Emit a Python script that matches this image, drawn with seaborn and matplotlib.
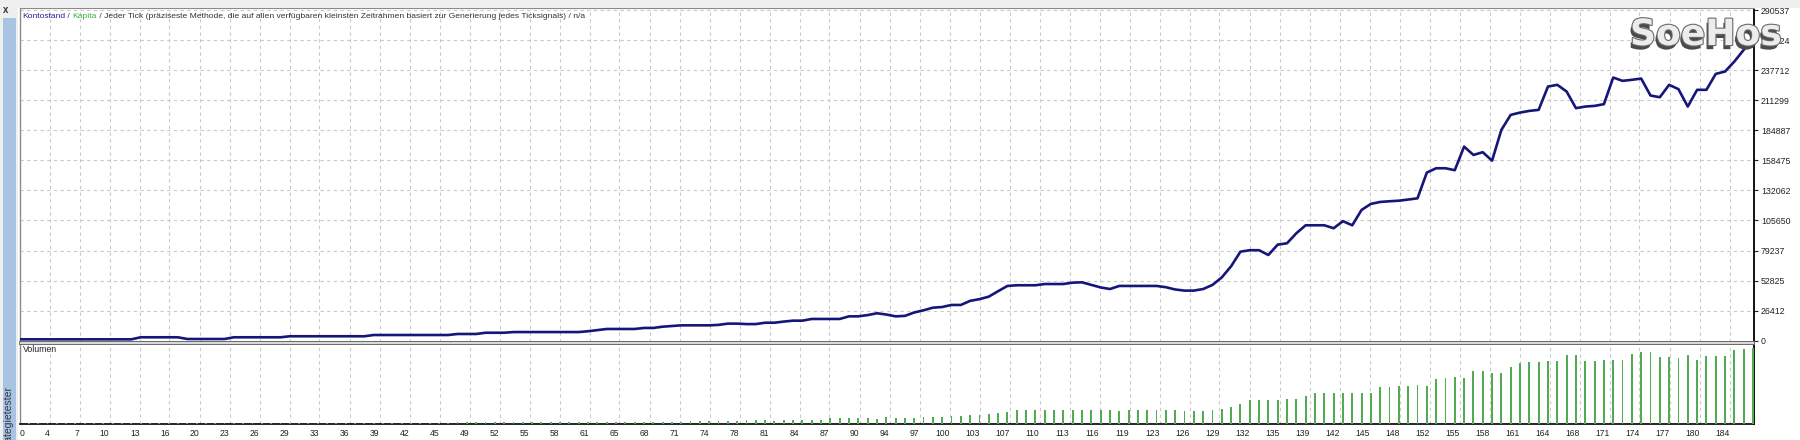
import numpy as np
import pandas as pd
import matplotlib
matplotlib.use("Agg")
import matplotlib.pyplot as plt
import matplotlib.patheffects as pe
from matplotlib.patches import Rectangle
import seaborn as sns

# Kontostand per trade
balance = [
    1200, 1200, 1200, 1200, 1200, 1200, 1200, 1200, 1200, 1200,
    1200, 1200, 1200, 3000, 3000, 3000, 3000, 3000, 1500, 1500,
    1500, 1500, 1500, 3000, 3000, 3000, 3000, 3000, 3000, 3900,
    3900, 3900, 3900, 3900, 3900, 3900, 3900, 3900, 5000, 5000,
    5000, 5000, 5000, 5000, 5000, 5000, 5000, 5900, 5900, 5900,
    7000, 7000, 7000, 7600, 7600, 7600, 7600, 7600, 7600, 7600,
    7600, 8300, 9300, 10300, 10300, 10300, 10300, 11200, 11200, 12300,
    12900, 13500, 13500, 13500, 13500, 13900, 15000, 15000, 14600, 14600,
    15800, 15800, 16800, 17600, 17600, 19100, 19100, 19100, 19100, 21400,
    21400, 22500, 24100, 23000, 21400, 21800, 24800, 26700, 29000, 29600,
    31400, 31400, 35000, 36500, 38700, 43500, 48100, 48700, 48700, 48700,
    49800, 49800, 49800, 51000, 51300, 49000, 46800, 45400, 48100, 48100,
    48100, 48100, 48100, 47000, 45000, 44000, 44000, 45400, 49000, 55600,
    65400, 78200, 79500, 79500, 75300, 84400, 85600, 94400, 101400, 101400,
    101400, 98800, 105000, 101400, 114900, 120200, 121900, 122500, 123000, 124000,
    125100, 147700, 151500, 151500, 149800, 170500, 163200, 165600, 158200, 185200,
    198400, 200400, 201900, 202800, 223300, 224800, 218900, 204300, 205700, 206300,
    207800, 231200, 228300, 229200, 230300, 215400, 213900, 224800, 221000, 205700,
    220400, 220400, 234400, 236500, 245300, 255500, 264900,
]

# Volumen per trade (relative bar height)
volumen = [
    0.3, 0.3, 0.3, 0.3, 0.3, 0.3, 0.3, 0.3, 0.3, 0.3,
    0.3, 0.3, 0.3, 0.5, 0.5, 0.5, 0.5, 0.5, 0.4, 0.4,
    0.4, 0.4, 0.4, 0.5, 0.5, 0.5, 0.5, 0.5, 0.5, 0.7,
    0.7, 0.7, 0.7, 0.7, 0.7, 0.7, 0.7, 0.7, 0.9, 0.9,
    0.9, 0.9, 0.9, 0.9, 0.9, 0.9, 0.9, 1.1, 1.1, 1.1,
    1.1, 1.1, 1.1, 1.3, 1.3, 1.3, 1.3, 1.3, 1.3, 1.3,
    1.3, 1.6, 1.6, 1.6, 1.6, 1.6, 1.6, 1.6, 1.6, 2.0,
    2.0, 2.0, 2.7, 2.7, 2.7, 2.7, 2.7, 2.7, 4.0, 4.0,
    4.0, 2.7, 4.0, 4.0, 4.0, 4.0, 4.0, 5.3, 5.3, 5.3,
    5.3, 5.3, 4.7, 6.7, 6.0, 6.0, 6.0, 6.7, 6.7, 6.7,
    8.0, 8.0, 8.7, 8.7, 9.3, 10.7, 11.3, 13.3, 13.3, 13.3,
    14.0, 14.0, 14.0, 14.0, 14.0, 14.0, 14.0, 13.3, 12.7, 13.3,
    13.3, 13.3, 13.3, 13.3, 13.3, 12.7, 12.3, 12.3, 13.3, 15.0,
    16.7, 20.0, 23.3, 23.3, 23.3, 24.0, 25.0, 25.0, 27.7, 30.7,
    30.7, 30.7, 30.7, 31.0, 31.0, 31.0, 36.7, 36.7, 37.3, 37.3,
    38.3, 38.0, 45.0, 45.7, 46.7, 45.7, 52.3, 52.3, 50.7, 50.7,
    56.7, 60.7, 61.7, 61.7, 63.0, 63.0, 69.0, 69.0, 63.0, 63.0,
    64.0, 64.0, 64.0, 70.0, 71.3, 71.3, 66.3, 66.3, 65.7, 69.0,
    64.0, 68.0, 67.3, 68.0, 73.3, 75.0, 75.3,
]

x_labels = ["0", "4", "7", "10", "13", "16", "20", "23", "26", "29", "33", "36",
            "39", "42", "45", "49", "52", "55", "58", "61", "65", "68", "71", "74",
            "78", "81", "84", "87", "90", "94", "97", "100", "103", "107", "110",
            "113", "116", "119", "123", "126", "129", "132", "135", "139", "142",
            "145", "148", "152", "155", "158", "161", "164", "168", "171", "174",
            "177", "180", "184"]
y_labels = ["0", "26412", "52825", "79237", "105650", "132062", "158475",
            "184887", "211299", "237712", "264124", "290537"]
y_max_label = 290537

title_parts = [
    ("Kontostand", "#23238a"),
    (" / ", "#333333"),
    ("Kapita", "#3cb043"),
    (" / Jeder Tick (präziseste Methode, die auf allen verfügbaren kleinsten "
     "Zeitrahmen basiert zur Generierung jedes Ticksignals) / n/a", "#333333"),
]

W, H = 1800, 440
PX_PER_TRADE = 9.32
GRID_PX = 30
LEFT, RIGHT = 19.5, 1754


def fx(px):
    return px / W


def fy(py):
    return 1 - py / H


sns.set_style("white")
plt.rcParams["font.family"] = ["Liberation Sans", "DejaVu Sans"]

fig = plt.figure(figsize=(18, 4.4), dpi=100, facecolor="white")

# window chrome: top strip, left tester bar
fig.patches.append(Rectangle((0, fy(8)), 1, fy(0) - fy(8), transform=fig.transFigure,
                             facecolor="#efefef", edgecolor="none", zorder=0))
fig.patches.append(Rectangle((0, 0), fx(18), 1, transform=fig.transFigure,
                             facecolor="#efefef", edgecolor="none", zorder=0))
fig.patches.append(Rectangle((fx(2.7), 0), fx(13), fy(18), transform=fig.transFigure,
                             facecolor="#a9c3e3", edgecolor="none", zorder=0))
fig.text(fx(6), fy(10), "x", fontsize=7, fontweight="bold", color="#333333",
         ha="center", va="center")
# tester tab caption, runs off the bottom edge like in the terminal
fig.text(fx(9), fy(386), "Strategietester", fontsize=7.5, color="#333344",
         rotation=90, ha="center", va="top")

ax1 = fig.add_axes([fx(LEFT), fy(341.5), fx(RIGHT - LEFT), (341.5 - 8.3) / H])
ax2 = fig.add_axes([fx(LEFT), fy(423.5), fx(RIGHT - LEFT), (423.5 - 344) / H])

# band between the two panes
fig.patches.append(Rectangle((fx(LEFT), fy(344)), fx(RIGHT - LEFT), (344 - 341.5) / H,
                             transform=fig.transFigure, facecolor="#d9d9d9",
                             edgecolor="none", zorder=0))

df = pd.DataFrame({"trade": np.arange(len(balance)), "balance": balance,
                   "volumen": volumen})

sns.lineplot(data=df, x="trade", y="balance", ax=ax1, color="#16167a",
             linewidth=1.9, estimator=None, sort=False, legend=False, zorder=3)
sns.barplot(data=df, x="trade", y="volumen", ax=ax2, native_scale=True,
            width=0.2, color="#52ab52", saturation=1, linewidth=0,
            errorbar=None, zorder=3)

xmax = (RIGHT - LEFT) / PX_PER_TRADE
xt = np.arange(len(x_labels)) * GRID_PX / PX_PER_TRADE
grid_kw = dict(color="#c9c9c9", linestyle=(0, (3, 3)), linewidth=0.8)

for ax in (ax1, ax2):
    ax.set_facecolor("white")
    ax.set_xlim(0, xmax)
    ax.set_xticks(xt)
    ax.set_xlabel("")
    ax.set_ylabel("")
    ax.grid(axis="x", **grid_kw)
    ax.set_axisbelow(True)
    ax.spines["left"].set_color("#8a8a8a")
    ax.spines["left"].set_linewidth(1.0)
    ax.spines["right"].set_color("#000000")
    ax.spines["right"].set_linewidth(1.3)

ax1.set_ylim(-703, 292031)
ax1.set_yticks(np.arange(len(y_labels)) * y_max_label / (len(y_labels) - 1))
ax1.yaxis.tick_right()
ax1.set_yticklabels(y_labels)
ax1.tick_params(axis="y", direction="out", length=3, width=0.8, pad=2,
                labelsize=6.3, colors="#222222")
ax1.tick_params(axis="x", length=0, labelbottom=False)
ax1.grid(axis="y", **grid_kw)
ax1.spines["top"].set_color("#8a8a8a")
ax1.spines["bottom"].set_color("#6a6a6a")
ax1.spines["bottom"].set_linewidth(1.4)

ax2.set_ylim(0, 79.5)
ax2.set_yticks([])
ax2.set_xticklabels(x_labels, ha="right")
ax2.xaxis.get_major_ticks()[0].label1.set_horizontalalignment("left")
ax2.tick_params(axis="x", direction="out", length=2, width=0.8, pad=2,
                labelsize=6.2, colors="#222222")
ax2.spines["top"].set_color("#6a6a6a")
ax2.spines["top"].set_linewidth(1.4)
ax2.spines["bottom"].set_color("#000000")
ax2.spines["bottom"].set_linewidth(1.2)
ax2.text(fx(23), fy(350), "Volumen", transform=fig.transFigure, fontsize=6.3,
         color="#222222", ha="left", va="center")

# coloured title line, parts laid out one after the other
fig.canvas.draw()
renderer = fig.canvas.get_renderer()
x0 = 22
for txt, col in title_parts:
    t = fig.text(fx(x0), fy(16), txt, color=col, fontsize=6.1, ha="left",
                 va="center")
    x0 = t.get_window_extent(renderer=renderer).x1

# watermark, drawn over the axis labels as in the screenshot
fig.text(fx(1630), fy(35), "SoeHos", fontsize=26, fontweight="bold",
         family="DejaVu Sans", color="#ececec", ha="left", va="center", zorder=10,
         path_effects=[pe.SimplePatchShadow(offset=(-1.5, -3), shadow_rgbFace="#4a4a4a",
                                            alpha=1),
                       pe.Stroke(linewidth=1.6, foreground="#6a6a6a"),
                       pe.Normal()])

fig.savefig("out.png", dpi=100, facecolor=fig.get_facecolor())
